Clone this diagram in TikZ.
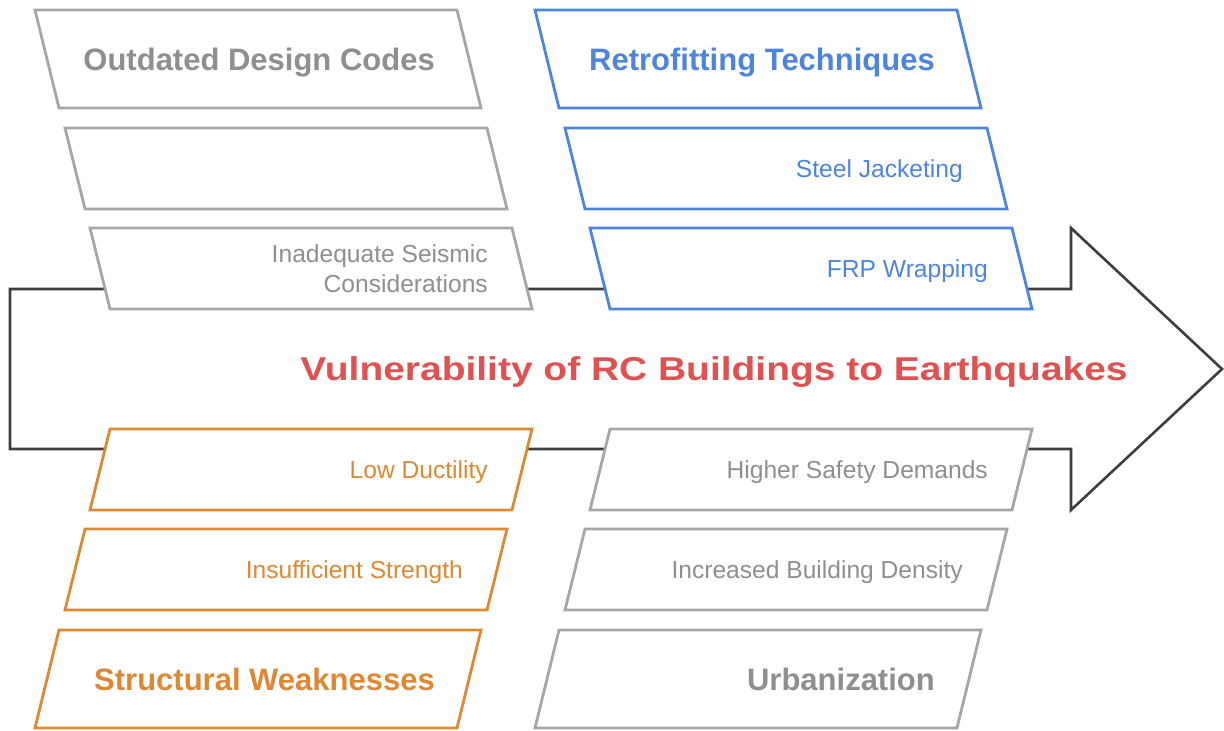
\documentclass[tikz,border=0pt]{standalone}
\usepackage{fontspec}
\setmainfont{Liberation Sans}
\usepackage{tikz}
\usepackage{xcolor}
\usetikzlibrary{
  positioning,
}
\definecolor{cGrey}    {HTML}{A6A6A6}
\definecolor{cGreyTxt} {HTML}{8F8F8F}
\definecolor{cBlue}    {HTML}{4D85DE}
\definecolor{cOrange}  {HTML}{DE8834}
\definecolor{cRed}     {HTML}{E05252}
\definecolor{cSpine}   {HTML}{3E3E3E}

\begin{document}
\begin{tikzpicture}[
  x=1pt, y=-1pt,
  %
  spine/.style={draw=cSpine, fill=white, line width=2.6pt},
  slantbox/.style={draw=#1, fill=white, line width=2.8pt},
  headlbl/.style={text=#1, font=\fontsize{31}{36}\selectfont\bfseries,
                  inner sep=0pt, text height=22.2pt, text depth=0pt},
  itemlbl/.style={text=#1, font=\fontsize{24.6}{30}\selectfont,
                  inner sep=0pt, text height=17.6pt, text depth=0pt},
  itemlbl2/.style={text=#1, font=\fontsize{24.6}{30}\selectfont,
                   inner sep=0pt, align=right},
  titlelbl/.style={text=cRed, font=\fontsize{33}{38}\selectfont\bfseries,
                   inner sep=0pt, text height=23.6pt, text depth=0pt},
]
\useasboundingbox (0,0) rectangle (1224,731);

% ────────────── BIG ARROW (spine) ─────────────────────────────────────────
\draw[spine] (10,289) -- (1071,289) -- (1071,228) -- (1222,369)
             -- (1071,510) -- (1071,449) -- (10,449) -- cycle;

% ────────────── UPPER LEFT — design codes (grey) ──────────────────────────
\draw[slantbox=cGrey] (35,10)  -- ++(422,0) -- coordinate (codes-e)   ++(24,98) -- ++(-422,0) -- cycle;
\draw[slantbox=cGrey] (65,128) -- ++(422,0) -- ++(20,81) -- ++(-422,0) -- cycle;
\draw[slantbox=cGrey] (90,228) -- ++(422,0) -- coordinate (seismic-e) ++(20,81) -- ++(-422,0) -- cycle;

% ────────────── UPPER RIGHT — retrofitting (blue) ─────────────────────────
\draw[slantbox=cBlue] (535,10)  -- ++(422,0) -- coordinate (retro-e) ++(24,98) -- ++(-422,0) -- cycle;
\draw[slantbox=cBlue] (565,128) -- ++(422,0) -- coordinate (steel-e) ++(20,81) -- ++(-422,0) -- cycle;
\draw[slantbox=cBlue] (590,228) -- ++(422,0) -- coordinate (frp-e)   ++(20,81) -- ++(-422,0) -- cycle;

% ────────────── LOWER LEFT — structural weaknesses (orange) ───────────────
\draw[slantbox=cOrange] (110,429) -- ++(422,0) -- coordinate (ductil-e)   ++(-20,81) -- ++(-422,0) -- cycle;
\draw[slantbox=cOrange] (85,529)  -- ++(422,0) -- coordinate (strength-e) ++(-20,81) -- ++(-422,0) -- cycle;
\draw[slantbox=cOrange] (59,630)  -- ++(422,0) -- coordinate (struct-e)   ++(-24,98) -- ++(-422,0) -- cycle;

% ────────────── LOWER RIGHT — urbanization (grey) ─────────────────────────
\draw[slantbox=cGrey] (610,429) -- ++(422,0) -- coordinate (safety-e)  ++(-20,81) -- ++(-422,0) -- cycle;
\draw[slantbox=cGrey] (585,529) -- ++(422,0) -- coordinate (density-e) ++(-20,81) -- ++(-422,0) -- cycle;
\draw[slantbox=cGrey] (559,630) -- ++(422,0) -- coordinate (urban-e)   ++(-24,98) -- ++(-422,0) -- cycle;

% ────────────── LABELS ────────────────────────────────────────────────────
\node[headlbl=cGreyTxt, left=34pt of codes-e]    (codes)    {Outdated Design Codes};
\node[itemlbl2=cGreyTxt, left=34pt of seismic-e] (seismic)  {Inadequate Seismic\\Considerations};

\node[headlbl=cBlue, left=34pt of retro-e]       (retro)    {Retrofitting Techniques};
\node[itemlbl=cBlue, left=34pt of steel-e]       (steel)    {Steel Jacketing};
\node[itemlbl=cBlue, left=34pt of frp-e]         (frp)      {FRP Wrapping};

\node[itemlbl=cOrange, left=34pt of ductil-e]    (ductil)   {Low Ductility};
\node[itemlbl=cOrange, left=34pt of strength-e]  (strength) {Insufficient Strength};
\node[headlbl=cOrange, left=34pt of struct-e]    (struct)   {Structural Weaknesses};

\node[itemlbl=cGreyTxt, left=34pt of safety-e]   (safety)   {Higher Safety Demands};
\node[itemlbl=cGreyTxt, left=34pt of density-e]  (density)  {Increased Building Density};
\node[headlbl=cGreyTxt, left=34pt of urban-e]    (urban)    {Urbanization};

% effect, centred on the arrow body
\node[titlelbl] (vuln) at (714,369)
     {\scalebox{1.18}[1]{Vulnerability of RC Buildings to Earthquakes}};

\end{tikzpicture}
\end{document}
